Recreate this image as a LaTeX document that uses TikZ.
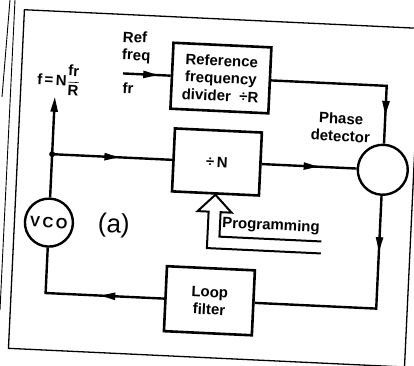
\documentclass[tikz,border=0pt]{standalone}
\usepackage{fontspec}
\setmainfont{Liberation Sans}
\usepackage{amsmath}
\usetikzlibrary{arrows.meta,decorations.markings}
\newcommand\lblfont{\fontsize{15}{17.5}\selectfont\bfseries}
\tikzset{
  >={Triangle[length=15pt,width=7pt]},
  ln/.style={line width=2.4pt},
  lbl/.style={font=\lblfont, align=center, inner sep=0pt},
  blk/.style={draw, line width=2.6pt, align=center, inner sep=0pt, font=\lblfont},
  circ/.style={draw, circle, line width=2.4pt, minimum size=50pt, inner sep=0pt, font=\lblfont},
  midarr/.style={postaction={decorate}, decoration={markings, mark=at position #1 with {\arrow{>}}}},
  framel/.style={line width=1.3pt},
  edgel/.style={line width=0.9pt}
}
\begin{document}
\begin{tikzpicture}[x=1pt,y=-1pt]
\useasboundingbox (0,0) rectangle (414,365);
\fill[white] (0,0) rectangle (414,365);
% page edges outside the frame
\draw[edgel] (10,0) -- (2,97);
\draw[edgel] (15,0) -- (0,310);
\begin{scope}[rotate around={-2.7:(207,182)}, transform shape]
  \draw[framel] (16.5,18.5) rectangle (413,357.5);
  % blocks
  \node[blk, minimum width=98pt, minimum height=66pt] (ref) at (216,77.5) {Reference\\frequency\\divider\ \ ÷R};
  \node[blk, minimum width=87pt, minimum height=63pt] (divn) at (216,161.5) {÷\,N};
  \node[blk, minimum width=88pt, minimum height=65pt] (loop) at (215,300.5) {Loop\\filter};
  \node[circ] (pd) at (382,161.5) {};
  \node[circ, minimum size=48pt] (vco) at (51,230) {V\,C\,O};
  \coordinate (J) at (51,161.5);
  \coordinate (fin) at (118,77.5);
  \coordinate (fout) at (51,104);
  % connectors
  \draw[ln, midarr=0.74] (fin) -- (ref.west);
  \draw[ln, midarr=0.84] (ref.east) -| (pd.north);
  \draw[ln, midarr=0.6] (divn.east) -- (pd.west);
  \draw[ln, midarr=0.24] (pd.south) |- (loop.east);
  \draw[ln, midarr=0.39] (loop.west) -| (vco.south);
  \draw[ln] (vco.north) -- (J);
  \draw[ln, midarr=0.56] (J) -- (divn.west);
  \draw[ln, ->] (J) -- (fout);
  \fill (J) circle (3pt);
  % programming input (hollow arrow)
  \draw[line width=2pt, line join=miter]
    (324,236) -- (222,236) -- (222,211.5) -- (233,211.5) -- (divn.south)
    -- (199,211.5) -- (210,211.5) -- (210,248) -- (324,248);
  % labels
  \node[lbl, align=left, anchor=west] (reflab) at (116,51) {Ref\\freq};
  \node[lbl, anchor=west] (frlab) at (118,92) {fr};
  \node[lbl] (pdlab) at (338,121) {Phase\\detector};
  \node[lbl] (flab) at (54,87) {f\,=\,N$\displaystyle\frac{\textbf{fr}}{\textbf{R}}$};
  \node[lbl] (proglab) at (273,223) {Programming};
  \node[font=\fontsize{26}{28}\selectfont, inner sep=0pt] (alab) at (116,230) {(a)};
\end{scope}
\end{tikzpicture}
\end{document}
